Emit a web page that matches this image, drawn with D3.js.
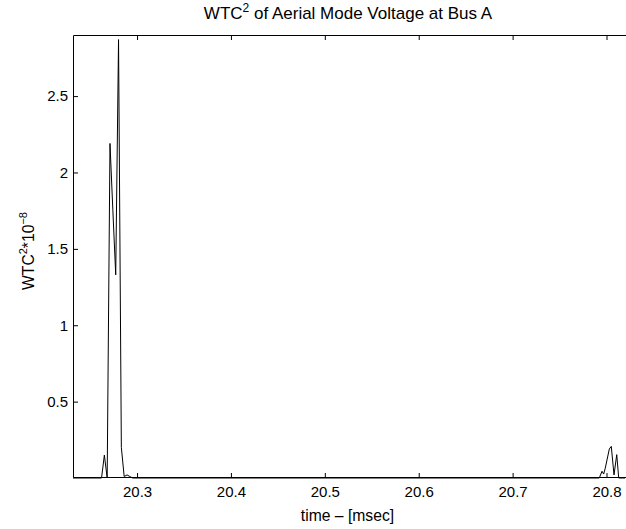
<!DOCTYPE html>
<html>
<head>
<meta charset="utf-8">
<script src="https://cdn.jsdelivr.net/npm/d3@7"></script>
<style>
  body { margin: 0; background: #fff; }
  text { font-family: "Liberation Sans", Arial, Helvetica, sans-serif; fill: #000; }
</style>
</head>
<body>
<div id="chart"></div>
<script>
// time in msec
const timeMs = [20.2318, 20.2622, 20.2652, 20.2682, 20.2712, 20.2742, 20.2773, 20.2803,
                20.2833, 20.2863, 20.2894, 20.2923, 20.2953,
                20.7923, 20.7952, 20.7970, 20.7987, 20.8030, 20.8051, 20.8080, 20.8109,
                20.8130, 20.8197];
// WTC^2 * 1e-8
const wtc2 = [0, 0, 0.15, 0, 2.19, 1.76, 1.33, 2.87,
              0.2, 0.01, 0.02, 0.01, 0,
              0, 0.044, 0.026, 0.065, 0.19, 0.207, 0.02, 0.153,
              0, 0];
const xTicks = [20.3, 20.4, 20.5, 20.6, 20.7, 20.8];
const yTicks = [0.5, 1, 1.5, 2, 2.5];

function drawChart() {
    const W = 626, H = 529;
    const margin = { top: 35, right: 1, bottom: 51, left: 73 };
    const width = W - margin.left - margin.right;
    const height = H - margin.top - margin.bottom;

    const svg = d3.select("#chart").append("svg")
        .attr("width", W)
        .attr("height", H);

    const g = svg.append("g")
        .attr("transform", `translate(${margin.left}, ${margin.top})`);

    const x = d3.scaleLinear()
        .domain([20.2318, 20.8197])
        .range([0, width]);

    const y = d3.scaleLinear()
        .domain([0, 2.9])
        .range([height, 0]);

    // data line
    const line = d3.line()
        .x(i => x(timeMs[i]))
        .y(i => y(wtc2[i]));

    g.append("path")
        .attr("d", line(d3.range(timeMs.length)))
        .attr("fill", "none")
        .attr("stroke", "#000")
        .attr("stroke-width", 1);

    // axes, MATLAB style inward ticks
    const tickLen = 5;
    const xAxis = g.append("g")
        .attr("transform", `translate(0, ${height})`)
        .call(d3.axisBottom(x).tickValues(xTicks).tickSize(-tickLen).tickPadding(8)
            .tickFormat(d3.format(".1f")));
    const xTop = g.append("g")
        .call(d3.axisTop(x).tickValues(xTicks).tickSize(-tickLen).tickFormat(""));
    const yAxis = g.append("g")
        .call(d3.axisLeft(y).tickValues(yTicks).tickSize(-tickLen).tickPadding(5)
            .tickFormat(d => d));

    [xAxis, xTop, yAxis].forEach(a => {
        a.select(".domain").remove();
        a.selectAll("line").attr("stroke", "#000");
        a.selectAll("text")
            .style("font-size", "15px")
            .style("font-family", "'Liberation Sans', Arial, sans-serif");
    });

    // frame (right side falls outside the picture)
    g.append("path")
        .attr("d", `M${width + 2},0.5H0.5V${height - 0.5}H${width + 2}`)
        .attr("fill", "none")
        .attr("stroke", "#000")
        .attr("stroke-width", 1);

    // title
    const title = svg.append("text")
        .attr("x", 348)
        .attr("y", 19)
        .attr("text-anchor", "middle")
        .style("font-size", "17px");
    title.append("tspan").text("WTC");
    title.append("tspan").attr("dy", -7).style("font-size", "12px").text("2");
    title.append("tspan").attr("dy", 7).text(" of Aerial Mode Voltage at Bus A");

    // x label
    svg.append("text")
        .attr("x", 347.5)
        .attr("y", 521)
        .attr("text-anchor", "middle")
        .style("font-size", "15.7px")
        .text("time \u2013 [msec]");

    // y label
    const ylab = svg.append("text")
        .attr("transform", `translate(34, 251) rotate(-90)`)
        .attr("text-anchor", "middle")
        .style("font-size", "15.7px");
    ylab.append("tspan").text("WTC");
    ylab.append("tspan").attr("dy", -7).style("font-size", "11px").text("2");
    ylab.append("tspan").attr("dy", 7).text("*10");
    ylab.append("tspan").attr("dy", -7).style("font-size", "11px").text("\u22128");
}

drawChart();
</script>
</body>
</html>
